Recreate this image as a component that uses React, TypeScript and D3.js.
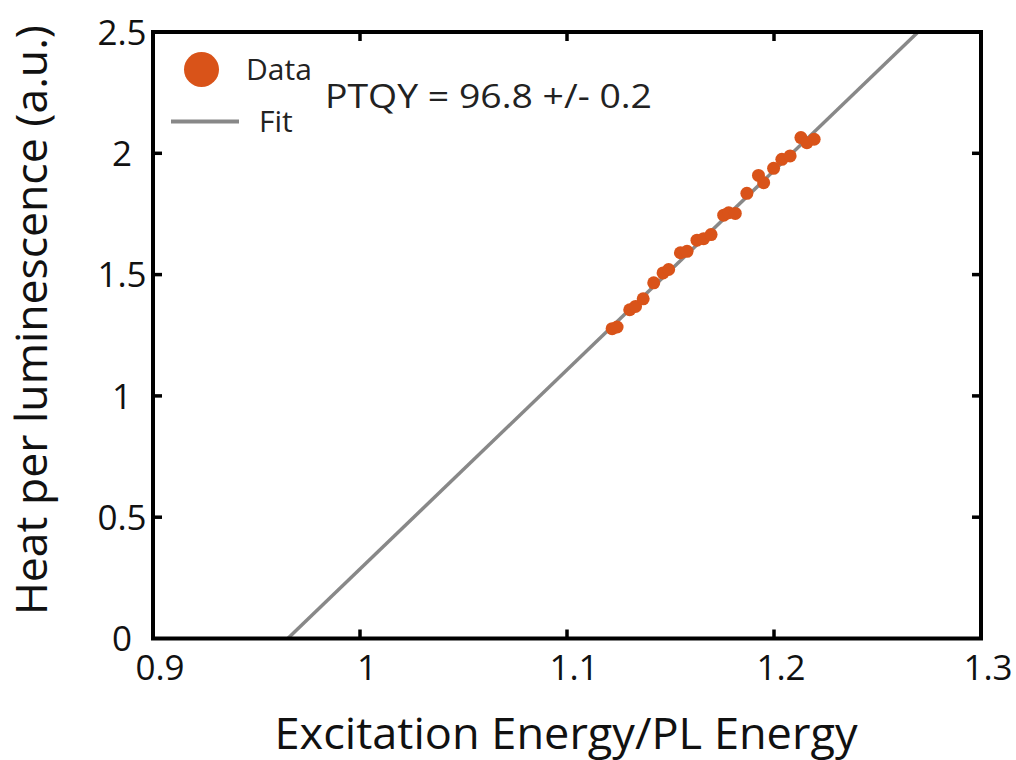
import React from "react";
import * as d3 from "d3";

const dataX = [1.1218, 1.1242, 1.1303, 1.1331, 1.1368, 1.1419, 1.1464, 1.1491, 1.1548, 1.158, 1.1628, 1.166, 1.1696, 1.1757, 1.1781, 1.1813, 1.1869, 1.1925, 1.195, 1.1998, 1.2038, 1.2078, 1.213, 1.2159, 1.2194];
const dataY = [1.277, 1.284, 1.355, 1.369, 1.4, 1.466, 1.507, 1.521, 1.59, 1.596, 1.642, 1.648, 1.665, 1.745, 1.755, 1.752, 1.835, 1.909, 1.879, 1.938, 1.975, 1.989, 2.065, 2.044, 2.058];
const fitSlope = 8.21;
const fitXIntercept = 0.9651;
const xTicks = [0.9, 1, 1.1, 1.2, 1.3];
const yTicks = [0, 0.5, 1, 1.5, 2, 2.5];
const xDomain = [0.9, 1.3];
const yDomain = [0, 2.5];

const W = 1016, H = 760;
const L = 153, R = 981, T = 32, B = 638.5;
const FONT = "'Open Sans', 'Noto Sans', sans-serif";
const ORANGE = "#D95319";
const GRAY = "#888888";

export default function App() {
  const x = d3.scaleLinear().domain(xDomain).range([L, R]);
  const y = d3.scaleLinear().domain(yDomain).range([B, T]);
  const fit = (v: number) => fitSlope * (v - fitXIntercept);
  const xStart = fitXIntercept;
  const xEnd = fitXIntercept + yDomain[1] / fitSlope;
  const line = d3.line<number>().x((v) => x(v)).y((v) => y(fit(v)));
  const tickLen = 9;
  const inner = xTicks.slice(1, -1);
  const innerY = yTicks.slice(1, -1);
  return (
    <svg width={W} height={H} style={{ position: "absolute", left: 0, top: 0, background: "#fff" }} fontFamily={FONT}>
      <rect x={0} y={0} width={W} height={H} fill="#fff" />
      {/* fit line */}
      <path d={line([xStart, xEnd]) || ""} stroke={GRAY} strokeWidth={3.5} fill="none" />
      {/* data */}
      {dataX.map((v, i) => (
        <circle key={i} cx={x(v)} cy={y(dataY[i])} r={6.5} fill={ORANGE} />
      ))}
      {/* ticks */}
      {inner.map((t) => (
        <g key={"xt" + t}>
          <line x1={x(t)} x2={x(t)} y1={B} y2={B - tickLen} stroke="#000" strokeWidth={3.5} />
          <line x1={x(t)} x2={x(t)} y1={T} y2={T + tickLen} stroke="#000" strokeWidth={3.5} />
        </g>
      ))}
      {innerY.map((t) => (
        <g key={"yt" + t}>
          <line x1={L} x2={L + tickLen} y1={y(t)} y2={y(t)} stroke="#000" strokeWidth={3.5} />
          <line x1={R} x2={R - tickLen} y1={y(t)} y2={y(t)} stroke="#000" strokeWidth={3.5} />
        </g>
      ))}
      {/* box */}
      <rect x={L} y={T} width={R - L} height={B - T} fill="none" stroke="#000" strokeWidth={4} />
      {/* tick labels */}
      {xTicks.map((t) => (
        <text key={"xl" + t} x={x(t) + 7} y={680} textAnchor="middle" fontSize={35} fill="#111">
          {d3.format("~g")(t)}
        </text>
      ))}
      {yTicks.map((t) => (
        <text key={"yl" + t} x={122} y={y(t)} dy="0.36em" textAnchor="middle" fontSize={35} fill="#111">
          {d3.format("~g")(t)}
        </text>
      ))}
      {/* axis labels */}
      <text x={566} y={749} textAnchor="middle" fontSize={44} fill="#111" textLength={583} lengthAdjust="spacingAndGlyphs">
        Excitation Energy/PL Energy
      </text>
      <text transform="translate(47,320) rotate(-90)" textAnchor="middle" fontSize={44} fill="#111" textLength={590} lengthAdjust="spacingAndGlyphs">
        Heat per luminescence (a.u.)
      </text>
      {/* legend */}
      <circle cx={201.5} cy={69.5} r={17.5} fill={ORANGE} />
      <text x={246} y={80} fontSize={30} fill="#222">Data</text>
      <line x1={171} x2={239} y1={121.5} y2={121.5} stroke={GRAY} strokeWidth={4} />
      <text x={259} y={131.5} fontSize={30} fill="#222">Fit</text>
      <text x={325} y={108} fontSize={33} fill="#222" textLength={327} lengthAdjust="spacingAndGlyphs">PTQY = 96.8 +/- 0.2</text>
    </svg>
  );
}
